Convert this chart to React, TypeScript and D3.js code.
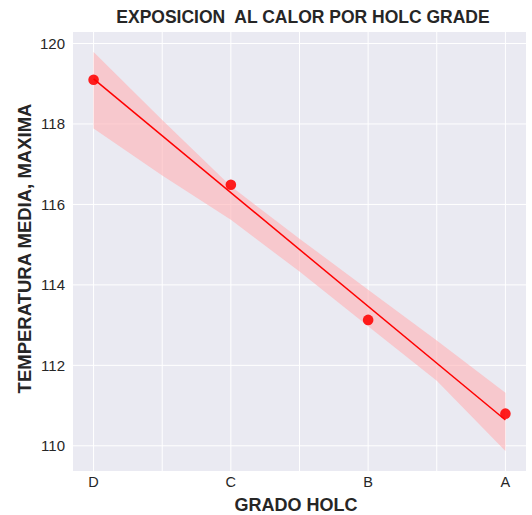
import * as d3 from 'd3';

// HOLC grades on the x axis (D worst -> A best)
const GRADES = ['D', 'C', 'B', 'A'];
// mean max temperature per grade
const TEMPS = [119.1, 116.49, 113.13, 110.8];
// bootstrap confidence band, at x = 0, 0.5, ... 3
const BAND_X = [0, 0.5, 1, 1.5, 2, 2.5, 3];
const BAND_HI = [119.79, 118.1, 116.45, 115.15, 113.88, 112.62, 111.32];
const BAND_LO = [117.89, 116.72, 115.62, 114.33, 112.97, 111.62, 109.87];
const Y_TICKS = [110, 112, 114, 116, 118, 120];

const WIDTH = 532;
const HEIGHT = 515;
const MARGIN = { top: 32, right: 6, bottom: 44, left: 73 };
const INNER_W = WIDTH - MARGIN.left - MARGIN.right;
const INNER_H = HEIGHT - MARGIN.top - MARGIN.bottom;
const FONT = '"Liberation Sans", Arial, sans-serif';
const TEXT = '#262626';

export default function App() {
  const pts = TEMPS.map((t, i) => ({ x: i, y: t }));

  // least-squares fit, like seaborn's regplot
  const mx = d3.mean(pts, (d) => d.x) ?? 0;
  const my = d3.mean(pts, (d) => d.y) ?? 0;
  const slope =
    d3.sum(pts, (d) => (d.x - mx) * (d.y - my)) /
    d3.sum(pts, (d) => (d.x - mx) ** 2);
  const icpt = my - slope * mx;
  const fit = [0, GRADES.length - 1].map((x) => ({ x, y: icpt + slope * x }));

  // 5% padding on both axes (matplotlib margins)
  const xPad = (GRADES.length - 1) * 0.05;
  const x = d3
    .scaleLinear()
    .domain([-xPad, GRADES.length - 1 + xPad])
    .range([0, INNER_W]);
  const yMin = Math.min(d3.min(BAND_LO) ?? 0, d3.min(TEMPS) ?? 0);
  const yMax = Math.max(d3.max(BAND_HI) ?? 0, d3.max(TEMPS) ?? 0);
  const yPad = (yMax - yMin) * 0.05;
  const y = d3
    .scaleLinear()
    .domain([yMin - yPad, yMax + yPad])
    .range([INNER_H, 0]);

  const band = d3
    .area<number>()
    .x((_, i) => x(BAND_X[i]))
    .y0((_, i) => y(BAND_LO[i]))
    .y1((_, i) => y(BAND_HI[i]));

  const line = d3
    .line<{ x: number; y: number }>()
    .x((d) => x(d.x))
    .y((d) => y(d.y));

  const vGrid = d3.range(0, GRADES.length - 0.99, 0.5);

  return (
    <svg
      width={WIDTH}
      height={HEIGHT}
      style={{ position: 'absolute', left: 0, top: 0, background: '#fff' }}
      fontFamily={FONT}
    >
      <text
        x={303}
        y={23}
        textAnchor="middle"
        fontSize={17.5}
        fontWeight={700}
        fill={TEXT}
        style={{ whiteSpace: 'pre' }}
      >
        {'EXPOSICION  AL CALOR POR HOLC GRADE'}
      </text>

      <g transform={`translate(${MARGIN.left},${MARGIN.top})`}>
        <rect width={INNER_W} height={INNER_H} fill="#EAEAF2" />

        {/* grid */}
        {Y_TICKS.map((t) => (
          <line key={t} x1={0} x2={INNER_W} y1={y(t)} y2={y(t)} stroke="#fff" strokeWidth={1} />
        ))}
        {vGrid.map((g) => (
          <line key={g} x1={x(g)} x2={x(g)} y1={0} y2={INNER_H} stroke="#fff" strokeWidth={1} />
        ))}

        {/* confidence band */}
        <path d={band(BAND_X) ?? ''} fill="#FFB1B4" fillOpacity={0.6} />

        {/* regression line */}
        <path d={line(fit) ?? ''} fill="none" stroke="red" strokeWidth={1.5} />

        {/* points */}
        {pts.map((d) => (
          <circle key={d.x} cx={x(d.x)} cy={y(d.y)} r={5.3} fill="red" fillOpacity={0.88} />
        ))}

        {/* y tick labels */}
        {Y_TICKS.map((t) => (
          <text
            key={t}
            x={-8}
            y={y(t)}
            dy="0.36em"
            textAnchor="end"
            fontSize={15}
            fill={TEXT}
          >
            {t}
          </text>
        ))}

        {/* x tick labels */}
        {GRADES.map((g, i) => (
          <text
            key={g}
            x={x(i)}
            y={INNER_H + 15.5}
            textAnchor="middle"
            fontSize={14.5}
            fill={TEXT}
          >
            {g}
          </text>
        ))}
      </g>

      <text
        x={296}
        y={510.5}
        textAnchor="middle"
        fontSize={18}
        fontWeight={700}
        fill={TEXT}
      >
        GRADO HOLC
      </text>
      <text
        transform={`translate(31,${MARGIN.top + INNER_H / 2 - 3}) rotate(-90)`}
        textAnchor="middle"
        fontSize={18.5}
        fontWeight={700}
        fill={TEXT}
      >
        TEMPERATURA MEDIA, MAXIMA
      </text>
    </svg>
  );
}
